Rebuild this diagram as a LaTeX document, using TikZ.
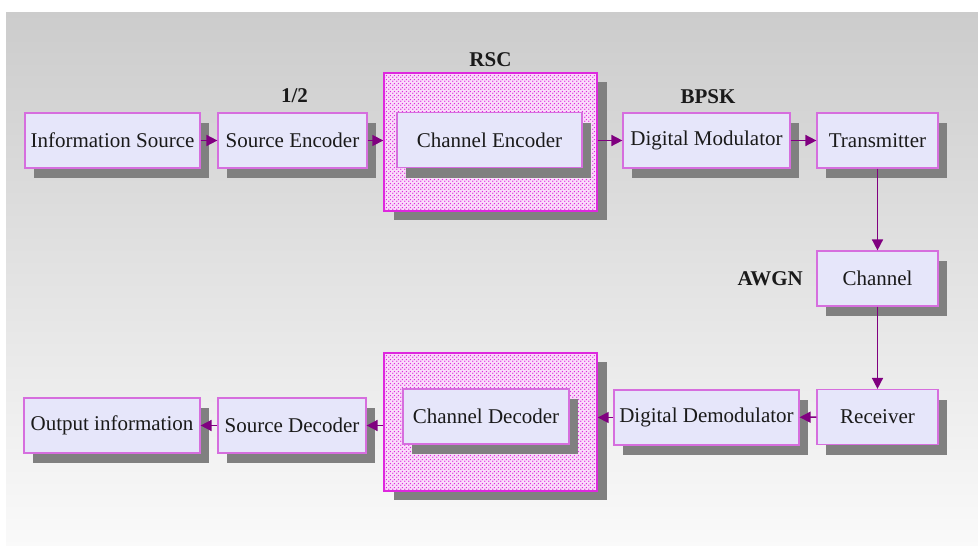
\documentclass[tikz,border=0pt]{standalone}
\usepackage{fontspec}
\setmainfont{Liberation Serif}
\usetikzlibrary{arrows.meta, positioning, shadows, patterns.meta}

\definecolor{boxfill}{RGB}{230,230,250}
\definecolor{boxline}{RGB}{214,110,222}
\definecolor{codeline}{RGB}{222,40,222}
\definecolor{flow}{RGB}{128,0,128}
\definecolor{shade}{RGB}{128,128,128}
\definecolor{ink}{RGB}{26,26,26}

% staggered dots for the codec frames
\tikzdeclarepattern{
    name=codecdots, type=uncolored,
    bottom left={(0pt,0pt)}, top right={(4pt,4pt)},
    tile size={(4pt,4pt)},
    code={
        \fill (1pt,1pt) circle (0.9pt);
        \fill (3pt,3pt) circle (0.9pt);
    }
}

\tikzset{
    blk/.style={rectangle, draw=boxline, line width=1.2pt, fill=boxfill,
                minimum height=55pt, inner sep=2pt, text=ink,
                font=\fontsize{21}{24}\selectfont,
                drop shadow={shadow xshift=9pt, shadow yshift=-10pt,
                             fill=shade, opacity=1}},
    codec/.style={rectangle, draw=codeline, line width=1.4pt, fill=codeline!16,
                  minimum width=213pt, minimum height=138pt,
                  postaction={pattern=codecdots, pattern color=codeline},
                  drop shadow={shadow xshift=10pt, shadow yshift=-9pt,
                               fill=shade, opacity=1}},
    tag/.style={font=\bfseries\fontsize{21}{24}\selectfont, text=ink},
    flowarrow/.style={draw=flow, line width=1.6pt,
                      -{Triangle[length=11pt, width=11pt]}}
}

\begin{document}
\begin{tikzpicture}[x=1pt, y=-1pt]
    \useasboundingbox (0,0) rectangle (978,546);
    \shade[top color=black!20, bottom color=black!2] (6,12) rectangle (978,546);

    % encoder chain
    \node[blk, minimum width=175pt] (src)  at (112.5,140.5) {Information Source};
    \node[blk, minimum width=149pt] (senc) at (292.5,140.5) {Source Encoder};
    \node[codec] (rsc) at (490.5,142) {};
    \node[blk, minimum width=185pt] (cenc) at (489.5,140) {Channel Encoder};
    \node[blk, minimum width=167pt] (mod)  at (706.5,140.5) {Digital Modulator};
    \node[blk, minimum width=121pt] (tx)   at (877.5,140.5) {Transmitter};

    % channel
    \node[blk, minimum width=121pt] (chan) at (877.5,278.5) {Channel};

    % decoder chain
    \node[blk, minimum width=121pt] (rx)    at (877.5,417) {Receiver};
    \node[blk, minimum width=185pt] (demod) at (706.5,417.5) {Digital Demodulator};
    \node[codec] (dec) at (490.5,422) {};
    \node[blk, minimum width=166pt] (cdec)  at (486,416.5) {Channel Decoder};
    \node[blk, minimum width=148pt] (sdec)  at (292,425.5) {Source Decoder};
    \node[blk, minimum width=176pt] (out)   at (112,425.5) {Output information};

    % labels
    \node[tag] (rate) at (294.5,96) {1/2};
    \node[tag, above=2pt of rsc] (rsclbl) {RSC};
    \node[tag] (bpsk) at (708,97) {BPSK};
    \node[tag, left=10pt of chan] (awgn) {AWGN};

    \draw[flowarrow] (src) -- (senc);
    \draw[flowarrow] (senc) -- (senc.east -| rsc.west);
    \draw[flowarrow] (mod.west -| rsc.east) -- (mod);
    \draw[flowarrow] (mod) -- (tx);
    \draw[flowarrow] (tx) -- (chan);
    \draw[flowarrow] (chan) -- (rx);
    \draw[flowarrow] (rx) -- (demod);
    \draw[flowarrow] (demod) -- (demod.west -| dec.east);
    \draw[flowarrow] (sdec.east -| dec.west) -- (sdec);
    \draw[flowarrow] (sdec) -- (out);
\end{tikzpicture}
\end{document}
